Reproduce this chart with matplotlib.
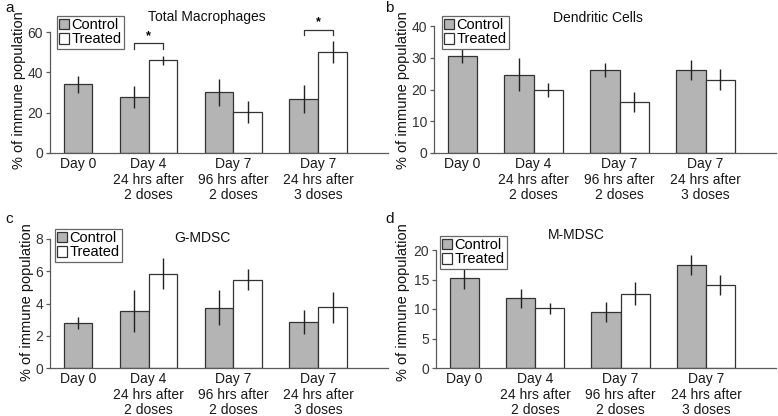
import matplotlib
matplotlib.use("Agg")
import matplotlib.pyplot as plt
from matplotlib.patches import Patch

plt.rcParams['font.family'] = ['Liberation Sans', 'DejaVu Sans']
plt.rcParams['font.size'] = 10

# ---------------- data ----------------
categories = ["Day 0",
              "Day 4\n24 hrs after\n2 doses",
              "Day 7\n96 hrs after\n2 doses",
              "Day 7\n24 hrs after\n3 doses"]
series_names = ["Control", "Treated"]

# a: Total Macrophages
mac_ctrl = [34.0, 27.6, 30.1, 26.8]
mac_ctrl_err = [4.3, 5.5, 6.7, 6.8]
mac_trt = [45.9, 20.3, 50.1]          # Day 4, Day 7 (96h), Day 7 (3 doses)
mac_trt_err = [2.4, 5.5, 5.3]

# b: Dendritic Cells
dc_ctrl = [30.5, 24.7, 26.2, 26.2]
dc_ctrl_err = [2.1, 5.2, 2.3, 3.2]
dc_trt = [19.8, 16.1, 23.0]
dc_trt_err = [2.2, 3.1, 3.3]

# c: G-MDSC
g_ctrl = [2.78, 3.54, 3.75, 2.84]
g_ctrl_err = [0.37, 1.28, 1.1, 0.76]
g_trt = [5.85, 5.47, 3.76]
g_trt_err = [0.98, 0.65, 0.95]

# d: M-MDSC
m_ctrl = [15.2, 11.8, 9.5, 17.4]
m_ctrl_err = [1.8, 1.6, 1.75, 1.7]
m_trt = [10.1, 12.6, 14.1]
m_trt_err = [1.0, 1.95, 1.7]

# ---------------- layout ----------------
W, H = 778, 416
fig = plt.figure(figsize=(W / 100, H / 100), dpi=100)

group_pos = [0.17, 1, 2, 3]
bar_w = 0.34
GRAY = '#b4b4b4'
EDGE = '#333333'
SPINE = '#5a5a5a'

panels = [
    dict(letter='a', title='Total Macrophages', ctrl=mac_ctrl, ce=mac_ctrl_err,
         trt=mac_trt, te=mac_trt_err, ymax=60, yticks=[0, 20, 40, 60],
         rect=(50, 32, 388, 153), leg=(57, 16), tpos=(207, 17), lpos=(5, 8),
         ylab=(19, 90)),
    dict(letter='b', title='Dendritic Cells', ctrl=dc_ctrl, ce=dc_ctrl_err,
         trt=dc_trt, te=dc_trt_err, ymax=40, yticks=[0, 10, 20, 30, 40],
         rect=(434, 26, 776, 153), leg=(442, 16), tpos=(598, 18), lpos=(385, 8),
         ylab=(403, 90)),
    dict(letter='c', title='G-MDSC', ctrl=g_ctrl, ce=g_ctrl_err,
         trt=g_trt, te=g_trt_err, ymax=8, yticks=[0, 2, 4, 6, 8],
         rect=(50, 239, 388, 368), leg=(55, 229), tpos=(202, 238), lpos=(5, 219),
         ylab=(27, 302)),
    dict(letter='d', title='M-MDSC', ctrl=m_ctrl, ce=m_ctrl_err,
         trt=m_trt, te=m_trt_err, ymax=20, yticks=[0, 5, 10, 15, 20],
         rect=(436, 250, 776, 368), leg=(440, 236), tpos=(576, 235), lpos=(385, 219),
         ylab=(403, 302)),
]

axes = {}
for p in panels:
    l, t, r, b = p['rect']
    ax = fig.add_axes([l / W, 1 - b / H, (r - l) / W, (b - t) / H])
    axes[p['letter']] = ax
    # control bars: Day 0 centred on its tick, others left of group centre
    cx = [group_pos[0]] + [g - bar_w / 2 for g in group_pos[1:]]
    tx = [g + bar_w / 2 for g in group_pos[1:]]
    ax.bar(cx, p['ctrl'], width=bar_w, color=GRAY, edgecolor=EDGE, linewidth=0.9, zorder=2)
    ax.bar(tx, p['trt'], width=bar_w, color='white', edgecolor=EDGE, linewidth=0.9, zorder=2)
    ax.errorbar(cx, p['ctrl'], yerr=p['ce'], fmt='none', ecolor='#222222',
                elinewidth=1.0, capsize=0, zorder=3)
    ax.errorbar(tx, p['trt'], yerr=p['te'], fmt='none', ecolor='#222222',
                elinewidth=1.0, capsize=0, zorder=3)

    ax.set_xlim(-0.16, 3.82)
    ax.set_ylim(0, p['ymax'])
    ax.set_yticks(p['yticks'])
    ax.set_xticks(group_pos)
    ax.set_xticklabels(categories, linespacing=1.15)
    for s in ['top', 'right']:
        ax.spines[s].set_visible(False)
    for s in ['left', 'bottom']:
        ax.spines[s].set_color(SPINE)
        ax.spines[s].set_linewidth(0.9)
    ax.tick_params(axis='x', length=0, pad=3, labelsize=10, colors='#1a1a1a')
    ax.tick_params(axis='y', length=3, width=0.9, color=SPINE, pad=2,
                   labelsize=10, labelcolor='#333333')

    fig.text(p['tpos'][0] / W, 1 - p['tpos'][1] / H, p['title'],
             ha='center', va='center', fontsize=10, color='#111111')
    fig.text(p['lpos'][0] / W, 1 - p['lpos'][1] / H, p['letter'],
             ha='left', va='center', fontsize=11, color='#111111')
    fig.text(p['ylab'][0] / W, 1 - p['ylab'][1] / H, '% of immune population',
             rotation=90, ha='center', va='center', fontsize=10.5, color='#111111')

    handles = [Patch(facecolor=GRAY, edgecolor=EDGE, linewidth=0.9),
               Patch(facecolor='white', edgecolor=EDGE, linewidth=0.9)]
    leg = ax.legend(handles, series_names, loc='upper left',
                    bbox_to_anchor=(p['leg'][0] / W, 1 - p['leg'][1] / H),
                    bbox_transform=fig.transFigure, borderaxespad=0,
                    fontsize=10.5, frameon=True, fancybox=False, framealpha=1,
                    handlelength=0.7, handleheight=0.75, handletextpad=0.15,
                    borderpad=0.15, labelspacing=0.02)
    leg.get_frame().set_edgecolor('#666666')
    leg.get_frame().set_linewidth(0.9)

# significance brackets (panel a)
ax = axes['a']
sig_groups = [1, 3]
sig_low = [51.6, 58.6]
sig_high = [54.3, 61.1]
for g, lo, hi in zip(sig_groups, sig_low, sig_high):
    x0, x1 = g - bar_w / 2, g + bar_w / 2
    ax.plot([x0, x0, x1, x1], [lo, hi, hi, lo], color='#333333', lw=0.9,
            clip_on=False, zorder=4)
    ax.annotate('*', xy=(g, hi), xytext=(0, 1), textcoords='offset points',
                ha='center', va='bottom', fontsize=9, fontweight='bold',
                annotation_clip=False)

fig.savefig('out.png', dpi=100)
